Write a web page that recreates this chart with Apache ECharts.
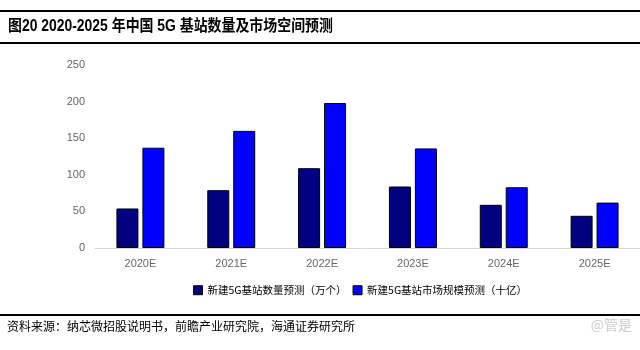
<!DOCTYPE html>
<html><head><meta charset="utf-8">
<script src="https://cdn.jsdelivr.net/npm/echarts@6/dist/echarts.min.js"></script>
<style>html,body{margin:0;padding:0;background:#fff}#c{width:640px;height:350px}</style>
</head><body><div id="c"></div>
<script>
var categories = ['2020E','2021E','2022E','2023E','2024E','2025E'];
var stationCount = [54, 79, 109, 84, 59, 44];
var marketSize = [137, 160, 198, 136, 83, 62];
var seriesNames = ['新建5G基站数量预测（万个）','新建5G基站市场规模预测（十亿）'];
var yTicks = [0, 50, 100, 150, 200, 250];

var chart = echarts.init(document.getElementById('c'));
chart.setOption({
  animation: false,
  textStyle: {fontFamily: 'Liberation Sans, Arial, sans-serif'},
  graphic: [
    {type: 'rect', shape: {x: 0, y: 10, width: 640, height: 2}, style: {fill: '#000'}},
    {type: 'rect', shape: {x: 0, y: 42, width: 640, height: 2}, style: {fill: '#000'}},
    {type: 'rect', shape: {x: 0, y: 314, width: 640, height: 2}, style: {fill: '#000'}},
    {type: 'text', x: 8, y: 27, scaleX: 0.87,
     style: {text: '图20 2020-2025 年中国 5G 基站数量及市场空间预测', fontSize: 16, fontWeight: 'bold', fill: '#000',
             verticalAlign: 'middle', fontFamily: 'Liberation Sans, "Noto Sans CJK SC", sans-serif'}},
    {type: 'text', left: 7, top: 320, style: {text: '资料来源：纳芯微招股说明书，前瞻产业研究院，海通证券研究所', fontSize: 12, fill: '#000', fontFamily: '"Noto Sans CJK SC", sans-serif'}},
    {type: 'text', right: 8, top: 318, style: {text: '@管是', fontSize: 14, fill: '#cccccc', fontFamily: '"Noto Sans CJK SC", sans-serif'}}
  ],
  legend: {
    data: seriesNames,
    left: 188, top: 280, icon: 'rect',
    itemWidth: 9, itemHeight: 9, itemGap: 6,
    itemStyle: {borderColor: '#000', borderWidth: 1},
    textStyle: {fontSize: 10.5, color: '#000', fontFamily: '"Noto Sans CJK SC", sans-serif'}
  },
  grid: {left: 95, right: 0, top: 65, bottom: 102},
  xAxis: {
    type: 'category', data: categories,
    axisLine: {lineStyle: {color: '#d9d9d9', width: 1}},
    axisTick: {show: false},
    axisLabel: {color: '#666666', fontSize: 11, margin: 10}
  },
  yAxis: {
    type: 'value', min: yTicks[0], max: yTicks[yTicks.length - 1], interval: 50,
    axisLine: {show: false}, axisTick: {show: false}, splitLine: {show: false},
    axisLabel: {color: '#666666', fontSize: 11, margin: 10}
  },
  series: [
    {name: seriesNames[0], type: 'bar', data: stationCount, barWidth: 22, barGap: '18%',
     itemStyle: {color: '#000080', borderColor: '#000', borderWidth: 1}},
    {name: seriesNames[1], type: 'bar', data: marketSize, barWidth: 22,
     itemStyle: {color: '#0000ff', borderColor: '#000', borderWidth: 1}}
  ]
});
</script></body></html>
